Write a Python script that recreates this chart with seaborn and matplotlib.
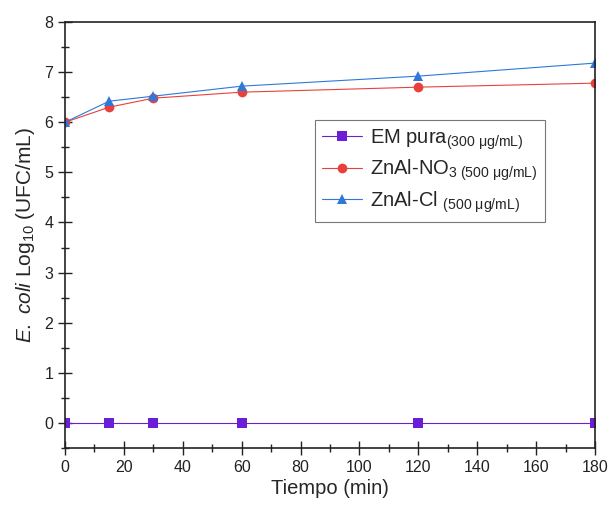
import matplotlib
matplotlib.use("Agg")
import matplotlib.pyplot as plt
from matplotlib.ticker import MultipleLocator
import seaborn as sns
import pandas as pd

tiempo = [0, 15, 30, 60, 120, 180]
em_pura = [0, 0, 0, 0, 0, 0]
znal_no3 = [6.0, 6.3, 6.48, 6.6, 6.7, 6.78]
znal_cl = [6.0, 6.42, 6.52, 6.72, 6.92, 7.18]
series_labels = [r"EM pura$_{\mathrm{(300\ \mu g/mL)}}$",
                 r"ZnAl-NO$_{\mathrm{3\ (500\ \mu g/mL)}}$",
                 r"ZnAl-Cl $_{\mathrm{(500\ \mu g/mL)}}$"]

df = pd.DataFrame({
    "t": tiempo * 3,
    "v": em_pura + znal_no3 + znal_cl,
    "s": [series_labels[0]] * 6 + [series_labels[1]] * 6 + [series_labels[2]] * 6,
})

sns.set_style("ticks")
plt.rcParams["font.family"] = ["Liberation Sans", "DejaVu Sans"]
plt.rcParams["mathtext.fontset"] = "custom"
plt.rcParams["mathtext.rm"] = "Liberation Sans"
plt.rcParams["mathtext.it"] = "Liberation Sans:italic"

fig = plt.figure(figsize=(6.1, 5.12), dpi=100)
ax = fig.add_axes([65/610, 1-448/512, 530/610, 426/512])

palette = {series_labels[0]: "#6a1fd6", series_labels[1]: "#e8413c", series_labels[2]: "#2f78d8"}
markers = {series_labels[0]: "s", series_labels[1]: "o", series_labels[2]: "^"}
sns.lineplot(data=df, x="t", y="v", hue="s", style="s", palette=palette,
             markers=markers, dashes=False, linewidth=0.8, markersize=7,
             markeredgewidth=0, ax=ax)

ax.set_xlim(0, 180)
ax.set_ylim(-0.5, 8)
ax.xaxis.set_major_locator(MultipleLocator(20))
ax.xaxis.set_minor_locator(MultipleLocator(10))
ax.yaxis.set_major_locator(MultipleLocator(1))
ax.yaxis.set_minor_locator(MultipleLocator(0.5))
ax.tick_params(which="both", direction="inout", top=False, right=False, labelsize=11.5, colors="#222222")
ax.tick_params(which="major", length=10, width=1)
ax.tick_params(which="minor", length=6, width=1)
for sp in ax.spines.values():
    sp.set_linewidth(1.2)
    sp.set_color("#222222")

ax.set_xlabel("Tiempo (min)", fontsize=14.5, labelpad=3)
ax.set_ylabel(r"$\it{E.}$ $\it{coli}$ Log$_{10}$ (UFC/mL)", fontsize=15, labelpad=5)

leg = ax.legend(loc="upper left", bbox_to_anchor=((315-65)/530, (448-120)/426),
                fontsize=14.5, frameon=True, fancybox=False, edgecolor="#555555",
                handlelength=2.0, handletextpad=0.4, borderpad=0.35,
                labelspacing=0.3, borderaxespad=0)
leg.get_frame().set_linewidth(0.8)

fig.savefig("out.png", dpi=100)
